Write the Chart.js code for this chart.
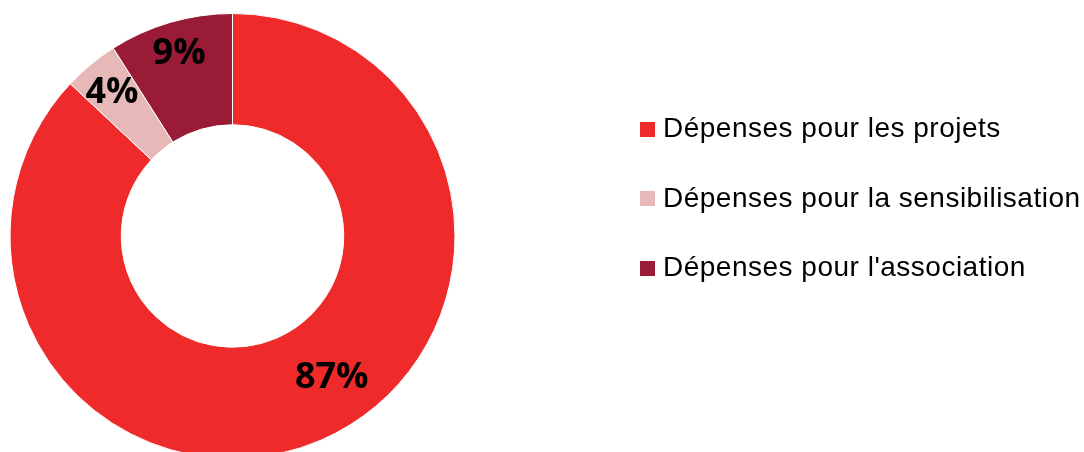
<!DOCTYPE html>
<html>
<head>
<meta charset="utf-8">
<script src="https://cdn.jsdelivr.net/npm/chart.js@4/dist/chart.umd.min.js"></script>
<style>
    html, body { margin: 0; padding: 0; background: #fff; overflow: hidden; }
    #wrap { position: relative; width: 1084px; height: 472px; }
    #legend { position: absolute; left: 640px; top: 0; font-family: 'Liberation Sans', Arial, sans-serif; font-size: 28px; letter-spacing: 0.5px; color: #000; }
    #legend .item { position: absolute; left: 0; display: flex; align-items: center; white-space: nowrap; height: 32px; }
    #legend .box { width: 15px; height: 15px; margin-right: 8px; margin-top: 2px; }
</style>
</head>
<body>
<div id="wrap">
    <canvas id="chart" width="1084" height="472"></canvas>
    <div id="legend"></div>
</div>
<script>
const categories = ['Dépenses pour les projets', 'Dépenses pour la sensibilisation', "Dépenses pour l'association"];
const values = [87, 4, 9];
const colors = ['#EE2A2A', '#E6B9B8', '#9A1B36'];
// label placement: fraction of outer radius and angle nudge (deg) per slice
const labelRadius = [0.77, 0.85, 0.86];
const labelShift = [-12, 0, 0];

const valueLabels = {
    id: 'valueLabels',
    afterDatasetsDraw(chart) {
        const ctx = chart.ctx;
        const meta = chart.getDatasetMeta(0);
        ctx.save();
        ctx.font = 'bold 36px "Open Sans"';
        ctx.fillStyle = '#000';
        ctx.textAlign = 'center';
        ctx.textBaseline = 'middle';
        meta.data.forEach((arc, i) => {
            const p = arc.getProps(['x', 'y', 'startAngle', 'endAngle', 'outerRadius']);
            const a = (p.startAngle + p.endAngle) / 2 + labelShift[i] * Math.PI / 180;
            const r = p.outerRadius * labelRadius[i];
            ctx.fillText(values[i] + '%', p.x + Math.cos(a) * r, p.y + Math.sin(a) * r + 2);
        });
        ctx.restore();
    }
};

function buildLegend() {
    const el = document.getElementById('legend');
    for (let i = 0; i < categories.length; i++) {
        const row = document.createElement('div');
        row.className = 'item';
        row.style.top = (112 + i * 69.5) + 'px';
        const box = document.createElement('div');
        box.className = 'box';
        box.style.background = colors[i];
        const txt = document.createElement('span');
        txt.textContent = categories[i];
        row.appendChild(box);
        row.appendChild(txt);
        el.appendChild(row);
    }
}

const ctx = document.getElementById('chart').getContext('2d');
const myChart = new Chart(ctx, {
    type: 'doughnut',
    data: {
        labels: categories,
        datasets: [{
            data: values,
            backgroundColor: colors,
            borderColor: '#fff',
            borderWidth: 1
        }]
    },
    plugins: [valueLabels],
    options: {
        responsive: false,
        animation: false,
        cutout: '50%',
        layout: {
            padding: { top: 13, bottom: 13, left: 9, right: 628 }
        },
        plugins: {
            legend: { display: false },
            tooltip: { enabled: false }
        }
    }
});
buildLegend();
</script>
</body>
</html>
